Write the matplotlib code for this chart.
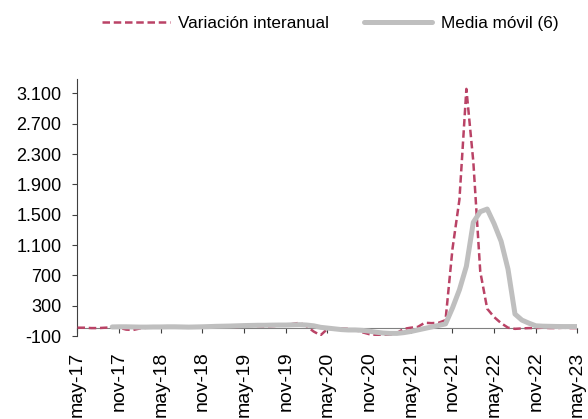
import numpy as np
import matplotlib.pyplot as plt

plt.rcParams['font.family'] = ['Liberation Sans', 'DejaVu Sans']

# monthly series, may-17 .. may-23
meses = ['may-17', 'nov-17', 'may-18', 'nov-18', 'may-19', 'nov-19', 'may-20',
         'nov-20', 'may-21', 'nov-21', 'may-22', 'nov-22', 'may-23']

var_interanual = [10, 10, 5, 5, 10, 15, 10, -15, -20, 0, 10, 15,
                  20, 15, 10, 20, 25, 20, 15, 20, 25, 30, 25, 20,
                  30, 35, 30, 25, 30, 35, 40, 60, 75, 30, -40, -90,
                  -5, -10, 0, -5, -20, -50, -75, -85, -85, -85, -60, -5,
                  10, 20, 75, 70, 75, 110, 1050, 1700, 3160, 2200, 750, 260,
                  150, 70, 10, -5, 0, 5, 5, 10, 5, 5, 10, 5, 5]

media_movil = [np.nan] * 5 + [
    20, 22, 22, 20, 18, 18, 20, 20, 22, 22,
    20, 18, 20, 22, 25, 28, 30, 32, 35, 38,
    40, 42, 42, 44, 45, 45, 48, 50, 45, 35,
    15, 5, -5, -15, -20, -20, -25, -35, -50, -60,
    -65, -65, -55, -40, -20, 0, 20, 40, 60, 270,
    510, 820, 1400, 1540, 1575, 1380, 1150, 780, 190, 110,
    70, 35, 30, 28, 26, 25, 25, 25]

x = np.arange(len(var_interanual))

fig = plt.figure(figsize=(5.88, 4.19), dpi=100)
ax = fig.add_axes([0.1318, 0.198, 0.8503, 0.6134])

ax.plot(x, var_interanual, color='#BA4366', lw=1.8, linestyle=(0, (3.0, 1.5)),
        label='Variación interanual', zorder=3)
ax.plot(x, media_movil, color='#BFBFBF', lw=3.6, solid_capstyle='round',
        solid_joinstyle='round', label='Media móvil (6)', zorder=4)

ax.spines['top'].set_visible(False)
ax.spines['right'].set_visible(False)
ax.spines['bottom'].set_position(('data', 0))
ax.spines['bottom'].set_color('#808080')
ax.spines['bottom'].set_zorder(2)
ax.spines['left'].set_color('#404040')

ax.set_xlim(0, 72)
ax.set_ylim(-100, 3290)
ax.set_yticks(np.arange(-100, 3101, 400))
ax.set_yticklabels([f'{v:,}'.replace(',', '.') for v in range(-100, 3101, 400)], fontsize=13)

ax.set_xticks(np.arange(0, 73, 6))
ax.set_xticklabels(meses, fontsize=14)
ax.tick_params(axis='x', direction='out', length=3.6, width=0.8, color='#404040',
               pad=13, labelrotation=90)
ax.tick_params(axis='y', direction='out', length=3.6, width=0.8, color='#404040', pad=8)

fig.legend(loc='center', bbox_to_anchor=(0.561, 0.944), ncol=2, frameon=False,
           fontsize=12.3, handlelength=4, handletextpad=0.5, columnspacing=2)

fig.savefig('out.png', dpi=100)
